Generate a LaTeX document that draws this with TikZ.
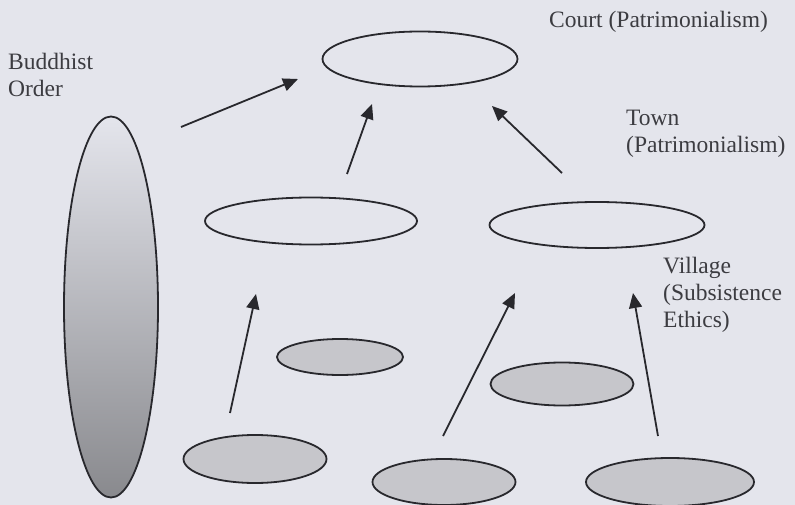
\documentclass[tikz,border=0pt]{standalone}
\usepackage{fontspec}
\setmainfont{Liberation Serif}
\usetikzlibrary{shapes.geometric,arrows.meta}
\definecolor{paper}{RGB}{228,229,236}
\definecolor{ink}{RGB}{40,40,45}
\definecolor{lobe}{RGB}{198,198,203}
\definecolor{labelgrey}{RGB}{60,60,65}
\begin{document}
\begin{tikzpicture}[x=1pt,y=-1pt,
  level/.style={ellipse,draw=ink,line width=1.8pt,inner sep=0pt},
  hollow/.style={level,fill=paper},
  grey/.style={level,fill=lobe},
  lbl/.style={text=labelgrey,font=\fontsize{23.5}{27}\selectfont,inner sep=0pt},
  rise/.style={draw=ink,line width=1.8pt,-{Triangle[length=15pt,width=13pt]}}]
  % page
  \fill[paper] (0,0) rectangle (795,505);
  \useasboundingbox (0,0) rectangle (795,505);

  % Buddhist order: tall shaded ellipse
  \node[level,minimum width=94pt,minimum height=381pt,
        top color=paper,middle color=black!18!paper,bottom color=black!40!paper]
        (order) at (111,307) {};

  % court and towns
  \node[hollow,minimum width=195pt,minimum height=55pt] (court) at (420,59) {};
  \node[hollow,minimum width=212pt,minimum height=47pt] (townL) at (311,221) {};
  \node[hollow,minimum width=215pt,minimum height=46pt] (townR) at (597,225) {};

  % villages
  \node[grey,minimum width=126pt,minimum height=36pt] (vMidL) at (340,357) {};
  \node[grey,minimum width=143pt,minimum height=43pt] (vMidR) at (562,384) {};
  \node[grey,minimum width=143pt,minimum height=48pt] (vBotL) at (255,459) {};
  \node[grey,minimum width=143pt,minimum height=46pt] (vBotM) at (444,482) {};
  \node[grey,minimum width=168pt,minimum height=48pt] (vBotR) at (670,482) {};

  % labels
  \node[lbl,anchor=base west] (lCourt) at (549,28) {Court (Patrimonialism)};
  \node[lbl,anchor=base west,align=left] (lOrder) at (8,97) {Buddhist\\Order};
  \node[lbl,anchor=base west,align=left] (lTown) at (626,153) {Town\\(Patrimonialism)};
  \node[lbl,anchor=base west,align=left] (lVillage) at (663,327) {Village\\(Subsistence\\Ethics)};

  % arrow end points
  \coordinate (a1s) at (181,127); \coordinate (a1e) at (298,79);
  \coordinate (a2s) at (347,174); \coordinate (a2e) at (372,104);
  \coordinate (a3s) at (562,173); \coordinate (a3e) at (492,106);
  \coordinate (a4s) at (230,413); \coordinate (a4e) at (256,294);
  \coordinate (a5s) at (443,436); \coordinate (a5e) at (515,293);
  \coordinate (a6s) at (658,436); \coordinate (a6e) at (633,293);

  \draw[rise] (a1s) -- (a1e);
  \draw[rise] (a2s) -- (a2e);
  \draw[rise] (a3s) -- (a3e);
  \draw[rise] (a4s) -- (a4e);
  \draw[rise] (a5s) -- (a5e);
  \draw[rise] (a6s) -- (a6e);
\end{tikzpicture}
\end{document}
